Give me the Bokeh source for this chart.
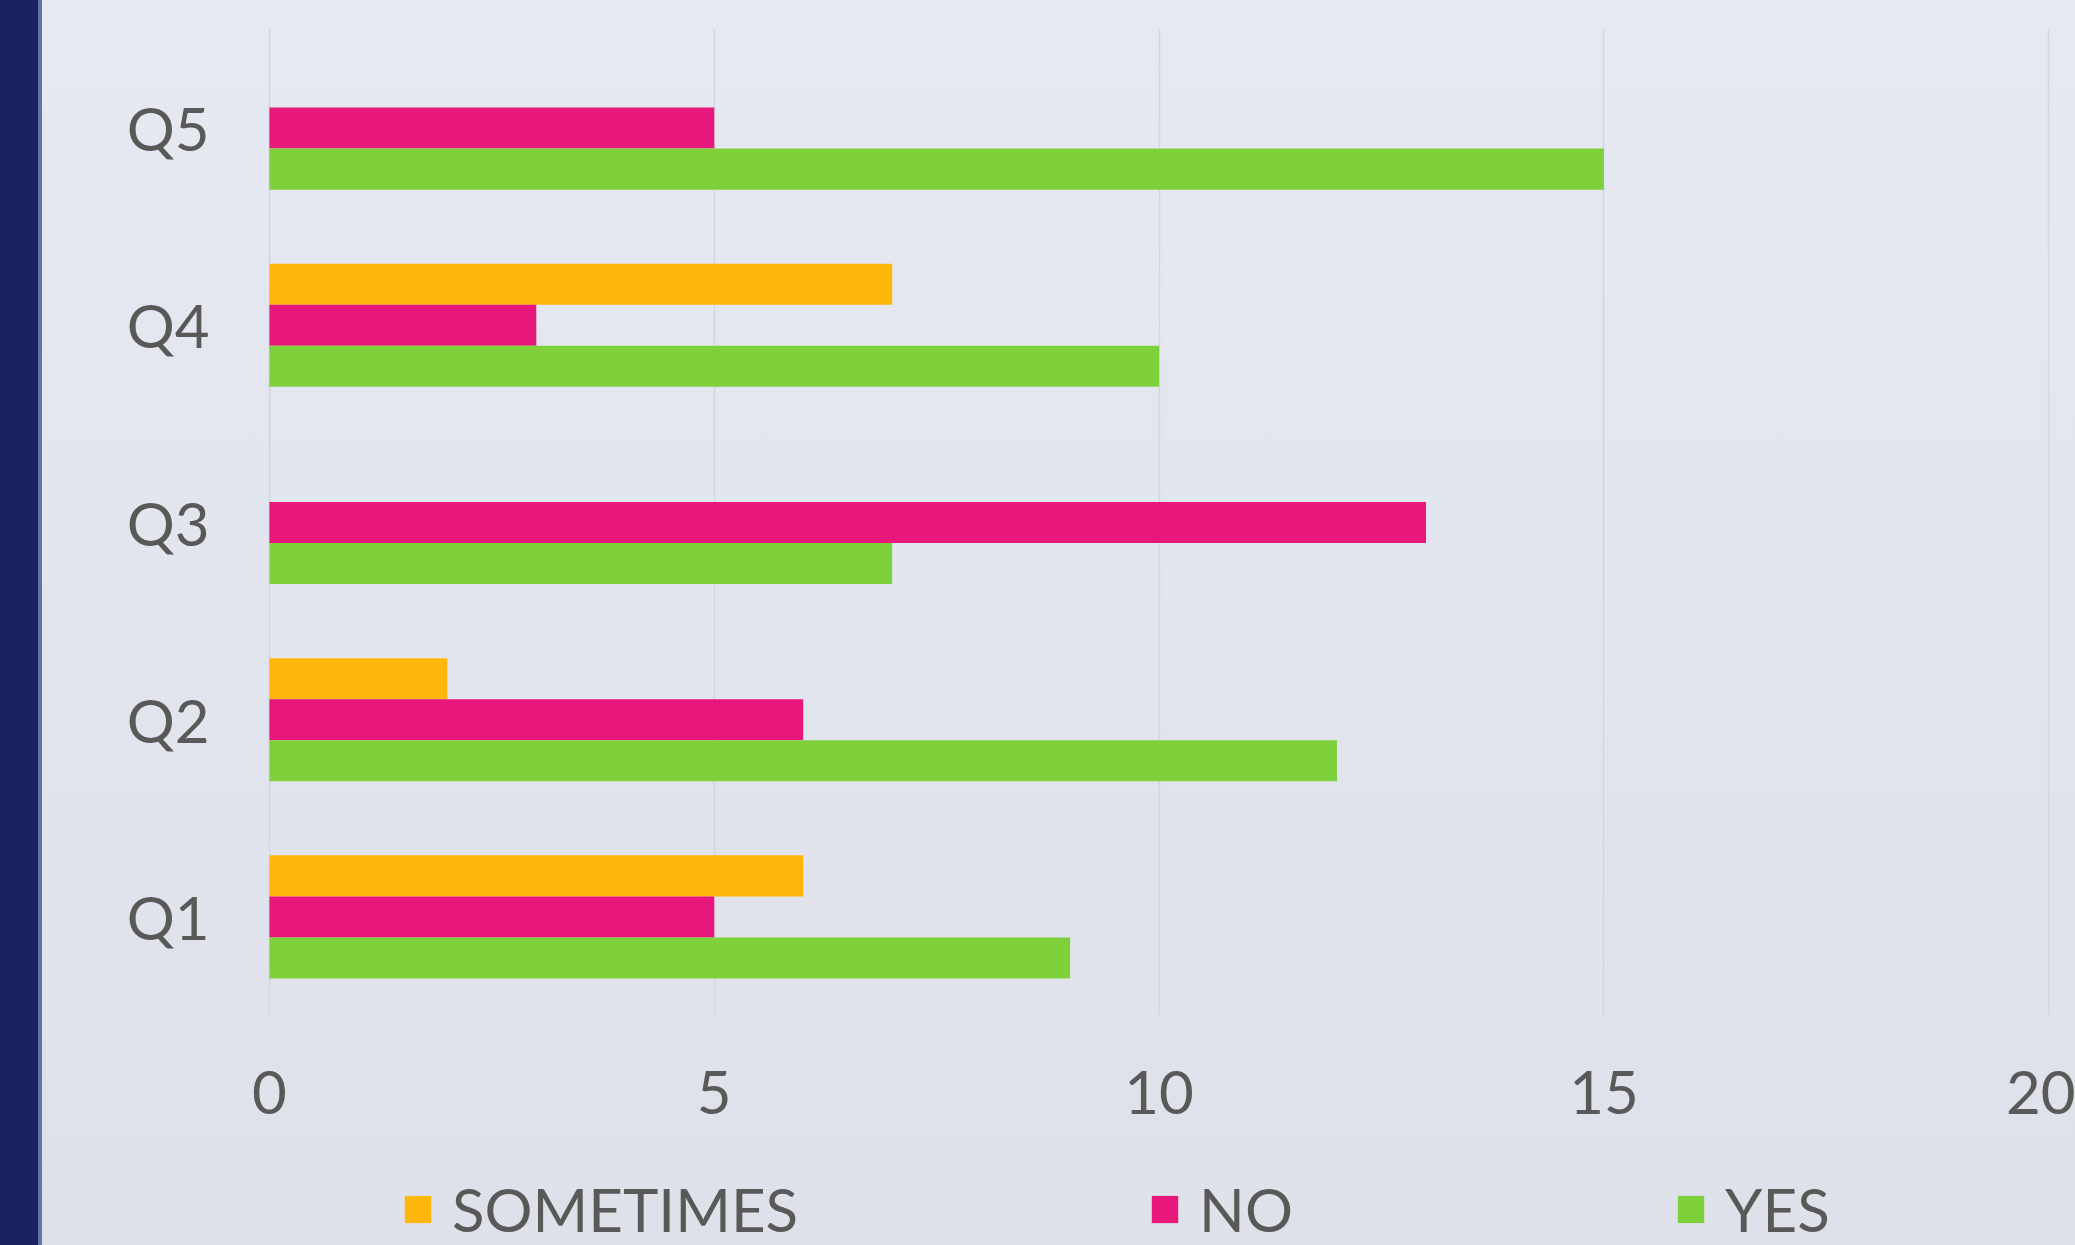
from bokeh.plotting import figure
from bokeh.models import ColumnDataSource, FactorRange, Range1d, Legend, LegendItem, FixedTicker
from bokeh.layouts import column
from bokeh.transform import dodge
from bokeh.embed import file_html
from bokeh.resources import INLINE

categories = ["Q1", "Q2", "Q3", "Q4", "Q5"]
sometimes = [6, 2, 0, 7, 0]
no = [5, 6, 13, 3, 5]
yes = [9, 12, 7, 10, 15]
x_ticks = [0, 5, 10, 15, 20]
series_names = ["SOMETIMES", "NO", "YES"]

FONT = "Lato"
TXT = "#595959"
BAR_H = 0.208
colors = ["#FFB60A", "#E8177B", "#7FD13B"]

src = ColumnDataSource(dict(cat=categories, sometimes=sometimes, no=no, yes=yes))

p = figure(
    width=2075, height=1140,
    y_range=FactorRange(factors=categories, range_padding=0),
    x_range=Range1d(-0.1, 20.3),
    output_backend="svg", toolbar_location=None,
    min_border_left=260, min_border_right=0, min_border_top=29, min_border_bottom=125,
)
p.background_fill_alpha = 0
p.border_fill_alpha = 0
p.outline_line_color = None

offsets = [BAR_H, 0.0, -BAR_H]
fields = ["sometimes", "no", "yes"]
for f, c, off in zip(fields, colors, offsets):
    p.hbar(y=dodge("cat", off, range=p.y_range), left=0, right=f, height=BAR_H,
           source=src, fill_color=c, line_color=None)

p.xaxis.ticker = FixedTicker(ticks=x_ticks)
for ax in (p.xaxis[0], p.yaxis[0]):
    ax.axis_line_color = None
    ax.major_tick_line_color = None
    ax.minor_tick_line_color = None
    ax.major_label_text_font = FONT
    ax.major_label_text_font_size = "60px"
    ax.major_label_text_color = TXT
p.xaxis.major_label_standoff = 49
p.yaxis.major_label_standoff = 45

p.ygrid.grid_line_color = None
p.xgrid.grid_line_color = "#D3D6DD"
p.xgrid.grid_line_width = 1.5

# legend strip below the chart (frame is aligned with the chart's frame by the column)
lg = figure(
    width=2075, height=105,
    x_range=Range1d(0, 1), y_range=Range1d(0, 1),
    x_axis_type=None, y_axis_type=None,
    output_backend="svg", toolbar_location=None,
    min_border=0, min_border_left=0, min_border_right=0, min_border_top=0, min_border_bottom=0,
)
lg.background_fill_alpha = 0
lg.border_fill_alpha = 0
lg.outline_line_color = None
lg.grid.grid_line_color = None

# proxy renderers for the legend swatches (drawn outside the visible range)
proxies = [lg.hbar(y=-10, left=0, right=f, height=0.2, source=src, fill_color=c, line_color=None)
           for f, c in zip(fields, colors)]

legend = Legend(
    items=[LegendItem(label=n, renderers=[r]) for n, r in zip(series_names, proxies)],
    orientation="horizontal",
    location=(141, 0),
    label_text_font=FONT, label_text_font_size="60px", label_text_color=TXT,
    glyph_width=33, glyph_height=34, label_standoff=18, spacing=350, label_width=125,
    padding=0, margin=0, border_line_color=None, background_fill_alpha=0,
)
lg.add_layout(legend, "center")

layout = column(p, lg, spacing=0, styles={
    "background": "linear-gradient(to right, #1A2360 0px, #1A2360 38px, #6274A3 38px, #6274A3 42px, transparent 42px), linear-gradient(#E6E9F2, #DEE1E9)"
})

open("out.html", "w").write(file_html(layout, INLINE))
